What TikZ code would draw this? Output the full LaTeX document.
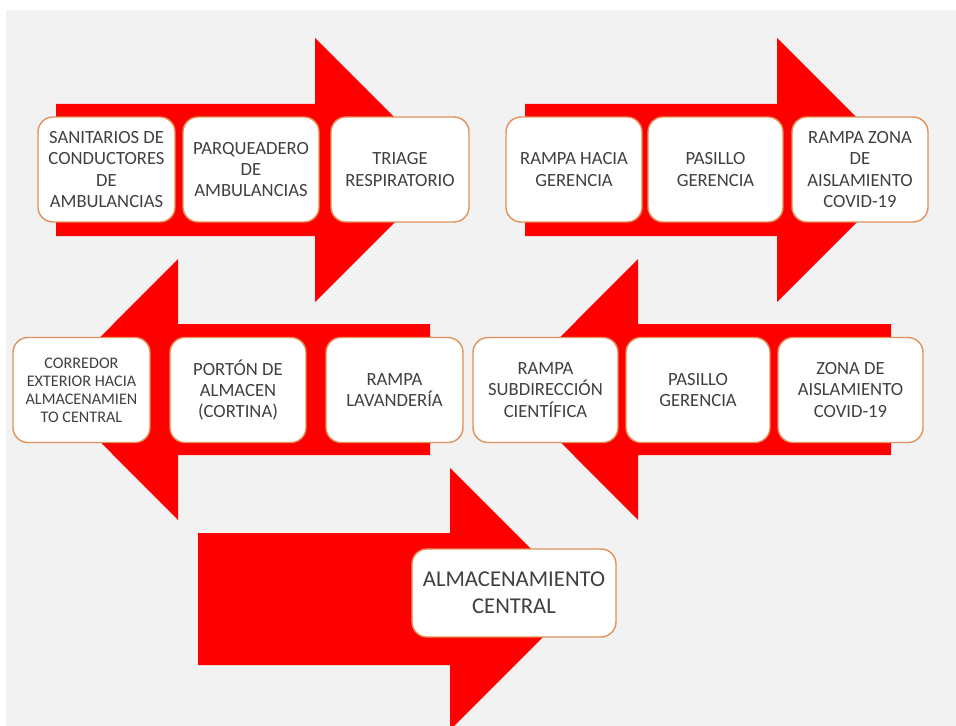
\documentclass[tikz,border=0pt]{standalone}
\usepackage{fontspec}
\setmainfont{Carlito}
\usepackage{tikz}

\definecolor{fondo}{HTML}{F2F2F2}
\definecolor{borde}{HTML}{E0925A}
\definecolor{texto}{HTML}{404040}

\begin{document}
\begin{tikzpicture}[x=0.02cm, y=-0.02cm,
  flecha/.style={fill=red, draw=none},
  sitio/.style={rectangle, draw=borde, fill=white, line width=0.8pt, rounded corners=0.3cm,
    minimum height=2.1cm, align=center, inner sep=1pt, text=texto,
    font=\fontsize{10.6}{12.2}\selectfont},
  chico/.style={font=\fontsize{9.2}{10.2}\selectfont}]
    \useasboundingbox (0,0) rectangle (956,726);
    \fill[white] (0,0) rectangle (956,726);
    \fill[fondo] (6,10) rectangle (956,726);
    % flechas
    \fill[flecha] (56,104) -- (315,104) -- (315,38) -- (447,170) -- (315,302) -- (315,236) -- (56,236) -- cycle;
    \fill[flecha] (525,104) -- (777,104) -- (777,38) -- (909,170) -- (777,302) -- (777,236) -- (525,236) -- cycle;
    \fill[flecha] (430,324) -- (178,324) -- (178,259) -- (48,389.5) -- (178,520) -- (178,455) -- (430,455) -- cycle;
    \fill[flecha] (891,324) -- (638,324) -- (638,259) -- (508,389.5) -- (638,520) -- (638,455) -- (891,455) -- cycle;
    \fill[flecha] (198,533) -- (450,533) -- (450,468) -- (581,599) -- (450,730) -- (450,665) -- (198,665) -- cycle;
    % primera fila
    \node[sitio, minimum width=2.74cm] (sanitarios) at (106.5,169.5) {SANITARIOS DE\\CONDUCTORES\\DE\\AMBULANCIAS};
    \node[sitio, minimum width=2.72cm] (parqueadero) at (251,169.5) {PARQUEADERO\\DE\\AMBULANCIAS};
    \node[sitio, minimum width=2.76cm] (triage) at (400,169.5) {TRIAGE\\RESPIRATORIO};
    \node[sitio, minimum width=2.72cm] (rampagerencia) at (574,169.5) {RAMPA HACIA\\GERENCIA};
    \node[sitio, minimum width=2.70cm] (pasillo) at (715.5,169.5) {PASILLO\\GERENCIA};
    \node[sitio, minimum width=2.72cm] (rampazona) at (860,169.5) {RAMPA ZONA\\DE\\AISLAMIENTO\\COVID-19};
    % segunda fila
    \node[sitio, chico, minimum width=2.74cm] (corredor) at (81.5,390) {CORREDOR\\EXTERIOR HACIA\\ALMACENAMIEN\\TO CENTRAL};
    \node[sitio, minimum width=2.72cm] (porton) at (238,390) {PORTÓN DE\\ALMACEN\\(CORTINA)};
    \node[sitio, minimum width=2.74cm] (lavanderia) at (394.5,390) {RAMPA\\LAVANDERÍA};
    \node[sitio, minimum width=2.90cm] (subdireccion) at (545.5,390) {RAMPA\\SUBDIRECCIÓN\\CIENTÍFICA};
    \node[sitio, minimum width=2.88cm] (pasillodos) at (698,390) {PASILLO\\GERENCIA};
    \node[sitio, minimum width=2.90cm] (zona) at (850.5,390) {ZONA DE\\AISLAMIENTO\\COVID-19};
    % destino
    \node[sitio, minimum width=4.08cm, minimum height=1.76cm, font=\fontsize{12.9}{15.4}\selectfont] (almacen) at (514,593) {ALMACENAMIENTO\\CENTRAL};
\end{tikzpicture}
\end{document}
